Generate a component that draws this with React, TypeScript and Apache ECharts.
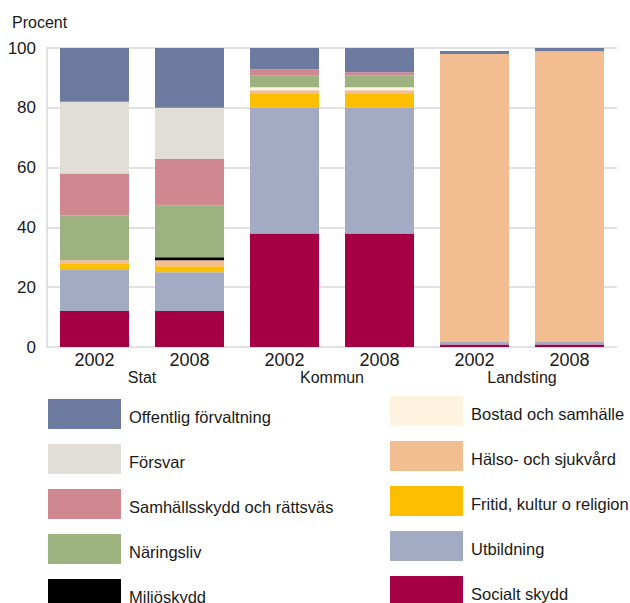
import React, { useEffect, useRef } from "react";
import * as echarts from "echarts";

const years = ["2002", "2008", "2002", "2008", "2002", "2008"];
const groups = ["Stat", "Kommun", "Landsting"];
const yTicks = { min: 0, max: 100, interval: 20 };

// stacking order bottom -> top
const socialtSkydd = [12, 12, 38, 38, 0.8, 0.8];
const utbildning = [14, 13, 42, 42, 0.9, 0.9];
const fritid = [2, 2, 4.9, 4.9, 0, 0];
const halso = [1, 2, 1, 1, 96.3, 97.2];
const bostad = [0, 0, 1, 1, 0, 0];
const miljo = [0, 1, 0, 0, 0, 0];
const naringsliv = [15, 17.2, 4, 4, 0, 0];
const samhallsskydd = [14, 15.7, 2, 1, 0, 0];
const forsvar = [24, 17.1, 0, 0, 0, 0];
const offentlig = [18, 20, 7.2, 8.2, 1, 1.1];

const seriesDefs = [
  { name: "Socialt skydd", data: socialtSkydd, color: "#a50044" },
  { name: "Utbildning", data: utbildning, color: "#a2aac4" },
  { name: "Fritid, kultur o religion", data: fritid, color: "#fbbe00" },
  { name: "Hälso- och sjukvård", data: halso, color: "#f2be91" },
  { name: "Bostad och samhälle", data: bostad, color: "#fdf3df" },
  { name: "Miljöskydd", data: miljo, color: "#000000" },
  { name: "Näringsliv", data: naringsliv, color: "#9cb27f" },
  { name: "Samhällsskydd och rättsväs", data: samhallsskydd, color: "#d08890" },
  { name: "Försvar", data: forsvar, color: "#e1ddd7" },
  { name: "Offentlig förvaltning", data: offentlig, color: "#6b7a9e" },
];

const legendLeft = [
  "Offentlig förvaltning",
  "Försvar",
  "Samhällsskydd och rättsväs",
  "Näringsliv",
  "Miljöskydd",
];
const legendRight = [
  "Bostad och samhälle",
  "Hälso- och sjukvård",
  "Fritid, kultur o religion",
  "Utbildning",
  "Socialt skydd",
];

const FONT = "'Liberation Sans', Arial, sans-serif";
const TXT = "#1a1a1a";
const GRID = "#d9d9d9";

export default function App() {
  const ref = useRef<HTMLDivElement>(null);
  useEffect(() => {
    document.body.style.margin = "0";
    if (!ref.current) return;
    const chart = echarts.init(ref.current, null, { renderer: "svg" });
    const legendCommon = {
      orient: "vertical" as const,
      icon: "rect",
      itemWidth: 73,
      itemHeight: 30,
      itemGap: 15,
      height: 260,
      selectedMode: false,
      formatter: "{a|{name}}",
      textStyle: {
        fontFamily: FONT,
        fontSize: 16.5,
        color: TXT,
        rich: {
          a: {
            fontFamily: FONT,
            fontSize: 16.5,
            color: TXT,
            padding: [6, 0, 0, 3],
          },
        },
      },
    };
    chart.setOption({
      animation: false,
      textStyle: { fontFamily: FONT },
      title: {
        text: "Procent",
        left: 7,
        top: 9,
        textStyle: { fontFamily: FONT, fontSize: 16, fontWeight: "normal", color: TXT },
      },
      grid: { left: 47, right: 13, top: 48, height: 299 },
      legend: [
        { ...legendCommon, left: 43, top: 394, data: legendLeft },
        { ...legendCommon, left: 385, top: 391, data: legendRight },
      ],
      xAxis: [
        {
          type: "category",
          data: years,
          axisLine: { show: false },
          axisTick: { show: false },
          axisLabel: { fontFamily: FONT, fontSize: 18, color: TXT, margin: 4 },
        },
        {
          type: "category",
          data: groups,
          position: "bottom",
          axisLine: { show: false },
          axisTick: { show: false },
          axisLabel: { fontFamily: FONT, fontSize: 16, color: TXT, margin: 22 },
        },
      ],
      yAxis: {
        type: "value",
        min: yTicks.min,
        max: yTicks.max,
        interval: yTicks.interval,
        axisLine: { show: true, lineStyle: { color: GRID, width: 1.5 } },
        axisTick: { show: false },
        splitLine: { show: true, lineStyle: { color: GRID, width: 1.5 } },
        axisLabel: {
          fontFamily: FONT,
          fontSize: 17,
          color: TXT,
          margin: 11,
          padding: [10, 0, 0, 0],
        },
      },
      series: seriesDefs.map((s) => ({
        name: s.name,
        type: "bar",
        stack: "total",
        xAxisIndex: 0,
        barWidth: 69,
        data: s.data,
        itemStyle: { color: s.color },
        emphasis: { disabled: true },
      })),
    });
    return () => chart.dispose();
  }, []);
  return <div ref={ref} style={{ width: 630, height: 603 }} />;
}
